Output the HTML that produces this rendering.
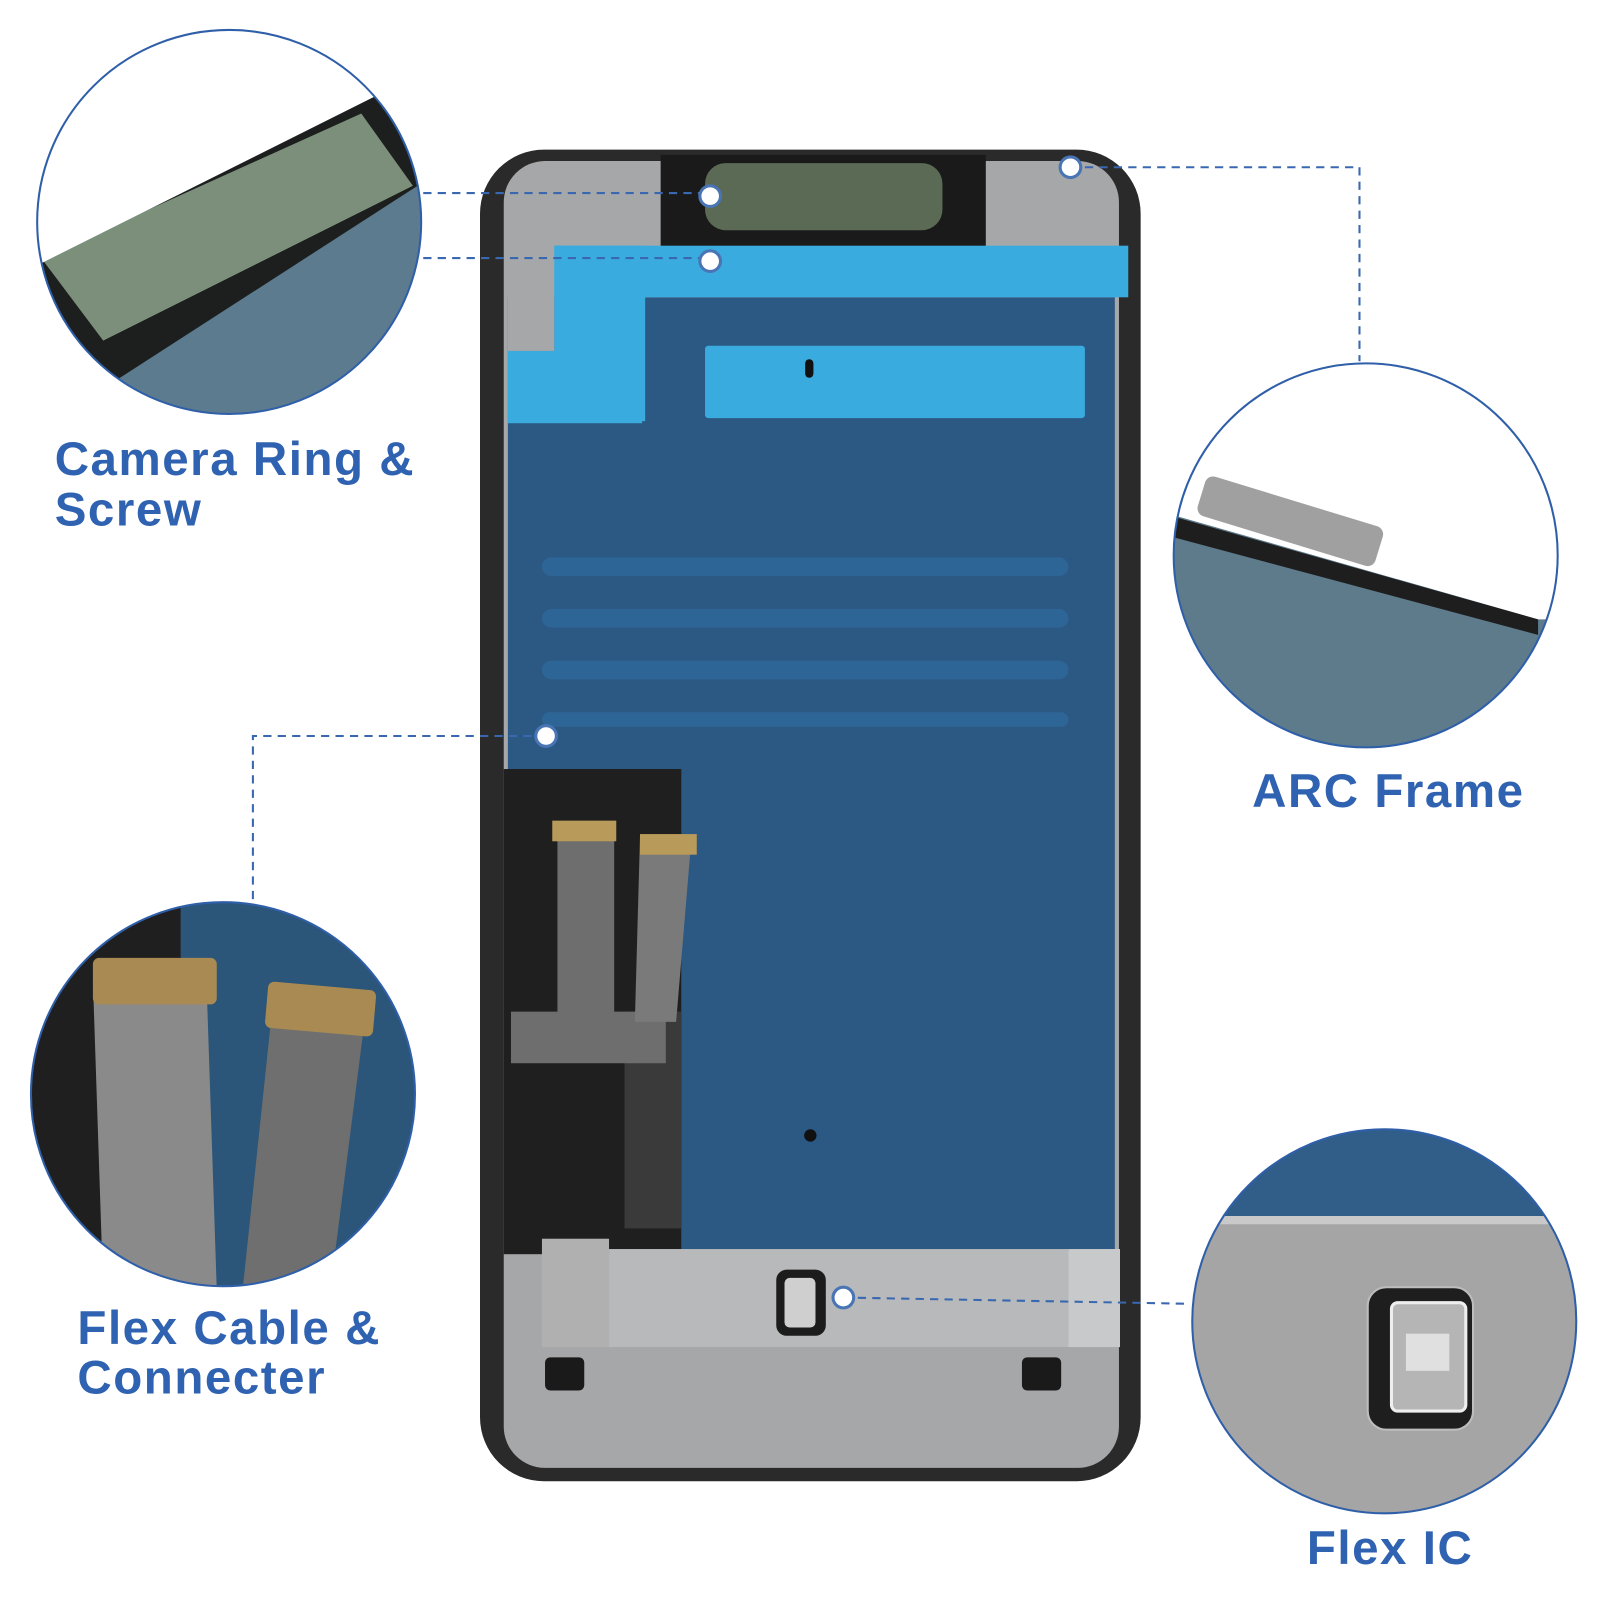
<!DOCTYPE html>
<html><head><style>
html,body{margin:0;padding:0;background:#fff;width:1600px;height:1600px;overflow:hidden}
svg{display:block}
text{font-family:"Liberation Sans",sans-serif;font-weight:bold;fill:#2f62b0}
</style></head><body>
<svg width="1600" height="1600" viewBox="0 0 1550 1550" xmlns="http://www.w3.org/2000/svg">
<defs>
<clipPath id="c1"><circle cx="222" cy="215" r="186"/></clipPath>
<clipPath id="c2"><circle cx="1323" cy="538" r="186"/></clipPath>
<clipPath id="c3"><circle cx="216" cy="1060" r="186"/></clipPath>
<clipPath id="c4"><circle cx="1341" cy="1280" r="186"/></clipPath>
</defs>
<rect width="1550" height="1550" fill="#fff"/>
<!-- phone -->
<rect x="465" y="145" width="640" height="1290" rx="62" fill="#2a2a2a"/>
<rect x="488" y="156" width="596" height="1266" rx="40" fill="#a6a7a9"/>
<rect x="640" y="150" width="315" height="92" fill="#1a1a1a"/>
<rect x="683" y="158" width="230" height="65" rx="20" fill="#5a6a55"/>
<!-- blue panel -->
<rect x="492" y="288" width="588" height="924" fill="#2c5984"/>
<rect x="492" y="240" width="45" height="100" fill="#a6a7a9"/>
<rect x="537" y="238" width="556" height="50" fill="#3aabde"/>
<rect x="537" y="238" width="88" height="170" fill="#3aabde"/>
<rect x="492" y="340" width="130" height="70" fill="#3aabde"/>
<rect x="683" y="335" width="368" height="70" rx="3" fill="#3aabde"/>
<rect x="780" y="348" width="8" height="18" rx="4" fill="#111"/>
<rect x="525" y="540" width="510" height="18" rx="9" fill="#2e6597"/>
<rect x="525" y="590" width="510" height="18" rx="9" fill="#2e6597"/>
<rect x="525" y="640" width="510" height="18" rx="9" fill="#2e6597"/>
<rect x="525" y="690" width="510" height="14" rx="7" fill="#2e6597"/>
<!-- left lower dark area -->
<rect x="488" y="745" width="172" height="470" fill="#1f1f1f"/>
<rect x="605" y="980" width="55" height="210" fill="#3a3a3a"/>
<path d="M540 800 h55 v180 l50 0 v50 h-150 v-50 h45z" fill="#6e6e6e"/>
<path d="M620 810 h50 l-15 180 h-40z" fill="#7a7a7a"/>
<rect x="535" y="795" width="62" height="20" fill="#b89a5a"/>
<rect x="620" y="808" width="55" height="20" fill="#b89a5a"/>
<rect x="525" y="1200" width="65" height="105" fill="#b0b0b0"/>
<!-- bottom plate -->
<rect x="590" y="1210" width="445" height="95" fill="#b8b9bb"/>
<rect x="1035" y="1210" width="50" height="95" fill="#c8c9cb"/>
<rect x="752" y="1230" width="48" height="64" rx="10" fill="#1c1c1c"/>
<rect x="760" y="1238" width="30" height="48" rx="5" fill="#cfcfcf"/>
<rect x="528" y="1315" width="38" height="32" rx="5" fill="#1a1a1a"/>
<rect x="990" y="1315" width="38" height="32" rx="5" fill="#1a1a1a"/>
<circle cx="785" cy="1100" r="6" fill="#111"/>
<!-- circle 1 -->
<g clip-path="url(#c1)">
<rect x="30" y="20" width="390" height="400" fill="#5c7b8f"/>
<polygon points="30,260 370,90 420,90 420,170 110,370 30,370" fill="#1c1f1d"/>
<polygon points="40,250 350,110 400,180 100,330" fill="#7b8f7a"/>
<polygon points="30,20 420,20 420,90 370,90 30,260" fill="#fff"/>
</g>
<circle cx="222" cy="215" r="186" fill="none" stroke="#2f5fa8" stroke-width="2"/>
<!-- circle 2 -->
<g clip-path="url(#c2)">
<rect x="1130" y="350" width="390" height="380" fill="#5e7b8c"/>
<polygon points="1130,350 1520,350 1520,600 1490,600 1140,500 1130,500" fill="#fff"/>
<polygon points="1135,500 1490,600 1490,615 1135,520" fill="#1e1e1e"/>
<rect x="1160" y="485" width="180" height="40" rx="8" fill="#a0a0a0" transform="rotate(17 1250 505)"/>
</g>
<circle cx="1323" cy="538" r="186" fill="none" stroke="#2f5fa8" stroke-width="2"/>
<!-- circle 3 -->
<g clip-path="url(#c3)">
<rect x="25" y="870" width="390" height="380" fill="#2b5579"/>
<rect x="25" y="870" width="150" height="380" fill="#1f1f1f"/>
<polygon points="90,950 200,950 210,1250 100,1250" fill="#8a8a8a"/>
<polygon points="265,965 355,975 320,1250 235,1250" fill="#6f6f6f"/>
<rect x="90" y="928" width="120" height="45" rx="6" fill="#a88a52"/>
<rect x="258" y="955" width="105" height="45" rx="6" fill="#a88a52" transform="rotate(5 310 978)"/>
</g>
<circle cx="216" cy="1060" r="186" fill="none" stroke="#2f5fa8" stroke-width="2"/>
<!-- circle 4 -->
<g clip-path="url(#c4)">
<rect x="1150" y="1090" width="390" height="380" fill="#a5a5a5"/>
<rect x="1150" y="1090" width="390" height="88" fill="#305e88"/>
<rect x="1150" y="1178" width="390" height="8" fill="#c9c9c9"/>
<rect x="1325" y="1247" width="102" height="138" rx="18" fill="#1e1e1e" stroke="#bdbdbd" stroke-width="2"/>
<rect x="1348" y="1262" width="72" height="105" rx="6" fill="#b5b5b5" stroke="#eee" stroke-width="3"/>
<rect x="1362" y="1292" width="42" height="36" fill="#e0e0e0"/>
</g>
<circle cx="1341" cy="1280" r="186" fill="none" stroke="#2f5fa8" stroke-width="2"/>
<!-- dashed connectors -->
<g stroke="#3a68b0" stroke-width="2" stroke-dasharray="8,6" fill="none">
<path d="M410 187 H688"/>
<path d="M410 250 H688"/>
<path d="M1037 162 H1317 V350"/>
<path d="M529 713 H245 V872"/>
<path d="M817 1257 L1150 1263"/>
</g>
<g fill="#fff" stroke="#4a75b5" stroke-width="3">
<circle cx="688" cy="190" r="10"/>
<circle cx="688" cy="253" r="10"/>
<circle cx="1037" cy="162" r="10"/>
<circle cx="529" cy="713" r="10"/>
<circle cx="817" cy="1257" r="10"/>
</g>
<!-- labels -->
<g style="letter-spacing:1.5px">
<text x="53" y="460" font-size="46">Camera Ring &amp;</text>
<text x="53" y="509" font-size="46">Screw</text>
<text x="1213" y="782" font-size="46">ARC Frame</text>
<text x="75" y="1302" font-size="46">Flex Cable &amp;</text>
<text x="75" y="1350" font-size="46">Connecter</text>
<text x="1266" y="1515" font-size="46">Flex IC</text>
</g>
</svg>
</body></html>
